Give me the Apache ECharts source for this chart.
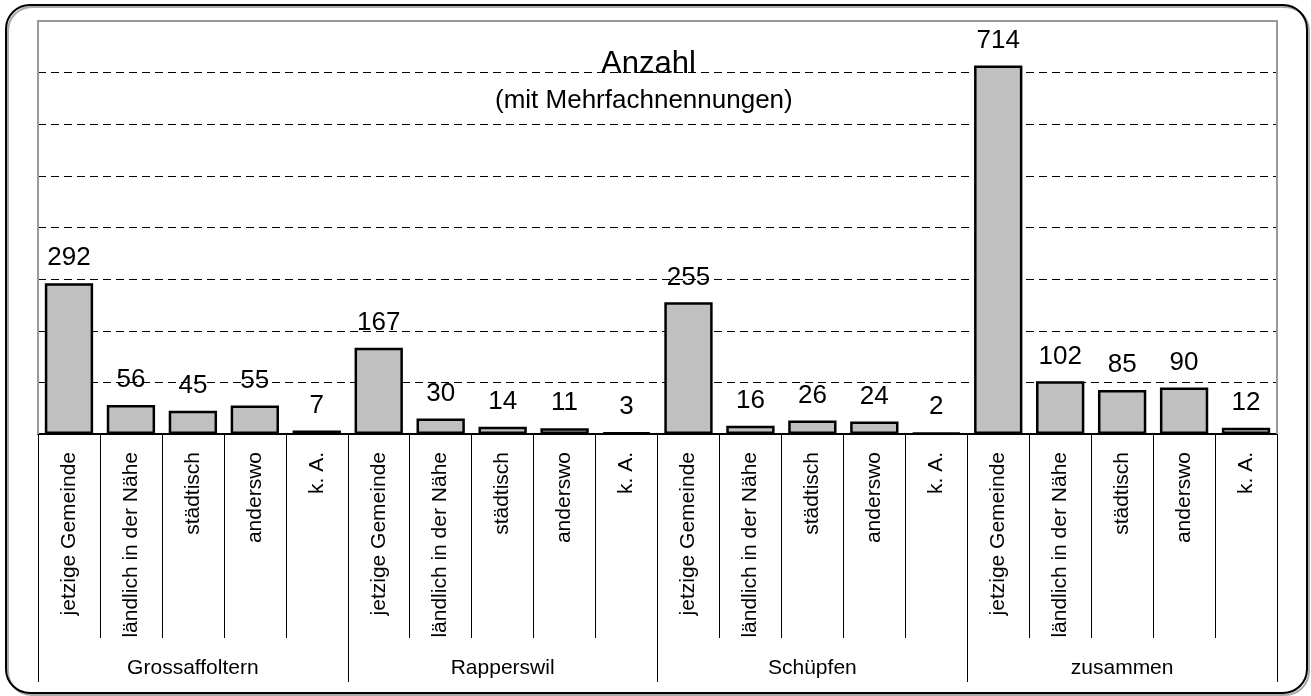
<!DOCTYPE html>
<html>
<head>
<meta charset="utf-8">
<script src="https://cdn.jsdelivr.net/npm/echarts@6/dist/echarts.min.js"></script>
<style>
html,body{margin:0;padding:0;background:#fff;}
#chart{width:1311px;height:696px;}
</style>
</head>
<body>
<div id="chart"></div>
<script>
const groups = ["Grossaffoltern", "Rapperswil", "Schüpfen", "zusammen"];
const subCategories = ["jetzige Gemeinde", "ländlich in der Nähe", "städtisch", "anderswo", "k. A."];
const grossaffoltern = [292, 56, 45, 55, 7];
const rapperswil = [167, 30, 14, 11, 3];
const schuepfen = [255, 16, 26, 24, 2];
const zusammen = [714, 102, 85, 90, 12];
const titleMain = "Anzahl";
const titleSub = "(mit Mehrfachnennungen)";

const groupValues = [grossaffoltern, rapperswil, schuepfen, zusammen];
const categories = [];
const values = [];
groups.forEach((g, gi) => {
  subCategories.forEach((c, ci) => {
    categories.push(c);
    values.push(groupValues[gi][ci]);
  });
});

const FONT = "'Liberation Sans', Arial, sans-serif";
const GL = 38, GT = 21, GR = 34, GB = 262;
const W = 1311, H = 696;
const chart = echarts.init(document.getElementById('chart'), null, {renderer: 'canvas'});
chart.setOption({
  animation: false,
  backgroundColor: '#ffffff',
  textStyle: {fontFamily: FONT},
  grid: {left: GL, right: GR, top: GT, bottom: GB, show: false},
  xAxis: [
    {
      type: 'category',
      data: categories,
      position: 'bottom',
      axisLine: {show: true, lineStyle: {color: '#000', width: 2}},
      axisTick: {show: true, interval: 0, length: 204, lineStyle: {color: '#000', width: 1}},
      axisLabel: {interval: 0, rotate: 90, margin: 18, color: '#000', fontSize: 21, fontFamily: FONT},
      splitLine: {show: false}
    },
    {
      type: 'category',
      data: groups,
      position: 'bottom',
      axisLine: {show: false},
      axisTick: {show: true, interval: 0, length: 248, lineStyle: {color: '#000', width: 1}},
      axisLabel: {interval: 0, margin: 224, color: '#000', fontSize: 21, fontFamily: FONT},
      splitLine: {show: false}
    }
  ],
  yAxis: {
    type: 'value',
    min: 0, max: 800, interval: 100,
    axisLine: {show: false},
    axisTick: {show: false},
    axisLabel: {show: false},
    splitLine: {show: true, lineStyle: {color: '#000', width: 1, type: [8, 5]}}
  },
  graphic: [
    {
      type: 'rect', z: -10, silent: true,
      shape: {x: 8, y: 7, width: 1301, height: 688, r: 24},
      style: {fill: 'none', stroke: '#aaaaaa', lineWidth: 2}
    },
    {
      type: 'rect', z: -9, silent: true,
      shape: {x: 6, y: 5, width: 1301, height: 688, r: 24},
      style: {fill: 'none', stroke: '#000', lineWidth: 2}
    },
    {
      type: 'polyline', z: 50, silent: true,
      shape: {points: [[GL, H - GB], [GL, GT], [W - GR, GT], [W - GR, H - GB]]},
      style: {fill: 'none', stroke: '#999999', lineWidth: 2}
    },
    {
      type: 'text', z: 5, silent: true,
      left: 649 - 48, top: 49,
      style: {text: titleMain, fontSize: 31, fontFamily: FONT, fill: '#000'}
    },
    {
      type: 'text', z: 5, silent: true,
      left: 495, top: 88,
      style: {text: titleSub, fontSize: 26, fontFamily: FONT, fill: '#000'}
    }
  ],
  series: [{
    type: 'bar',
    xAxisIndex: 0,
    data: values,
    barCategoryGap: '22%',
    itemStyle: {color: '#C0C0C0', borderColor: '#000', borderWidth: 2.5},
    label: {show: true, position: 'top', distance: 12, color: '#000', fontSize: 26, fontFamily: FONT}
  }]
});
</script>
</body>
</html>
